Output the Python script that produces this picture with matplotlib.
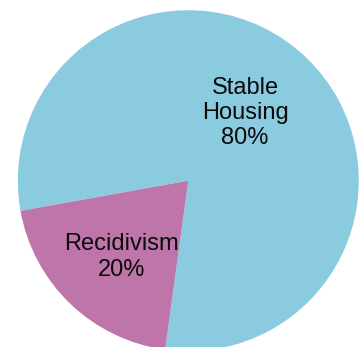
import matplotlib
matplotlib.use("Agg")
import matplotlib.pyplot as plt

labels = ["Stable\nHousing", "Recidivism"]
values = [80, 20]
colors = ["#8acbdf", "#be75aa"]

W, H = 362, 347
fig = plt.figure(figsize=(W / 100, H / 100), dpi=100)
ax = fig.add_axes([0, 0, 1, 1])
cx, cy, r = 188.3, H - 180.7, 170.5
wedges, _ = ax.pie(values, colors=colors, startangle=262.2, counterclock=True,
                   center=(cx, cy), radius=r,
                   wedgeprops=dict(linewidth=0, antialiased=True))
ax.set_xlim(0, W)
ax.set_ylim(0, H)
ax.set_aspect("auto")
ax.axis("off")

label_pos = [(245, H - 113), (121.5, H - 257)]
for lab, v, (x, y) in zip(labels, values, label_pos):
    ax.text(x, y, f"{lab}\n{v}%", ha="center", va="center", fontsize=17,
            family="Liberation Sans", color="#0a0a0a", linespacing=1.2)

fig.savefig("out.png", dpi=100)
